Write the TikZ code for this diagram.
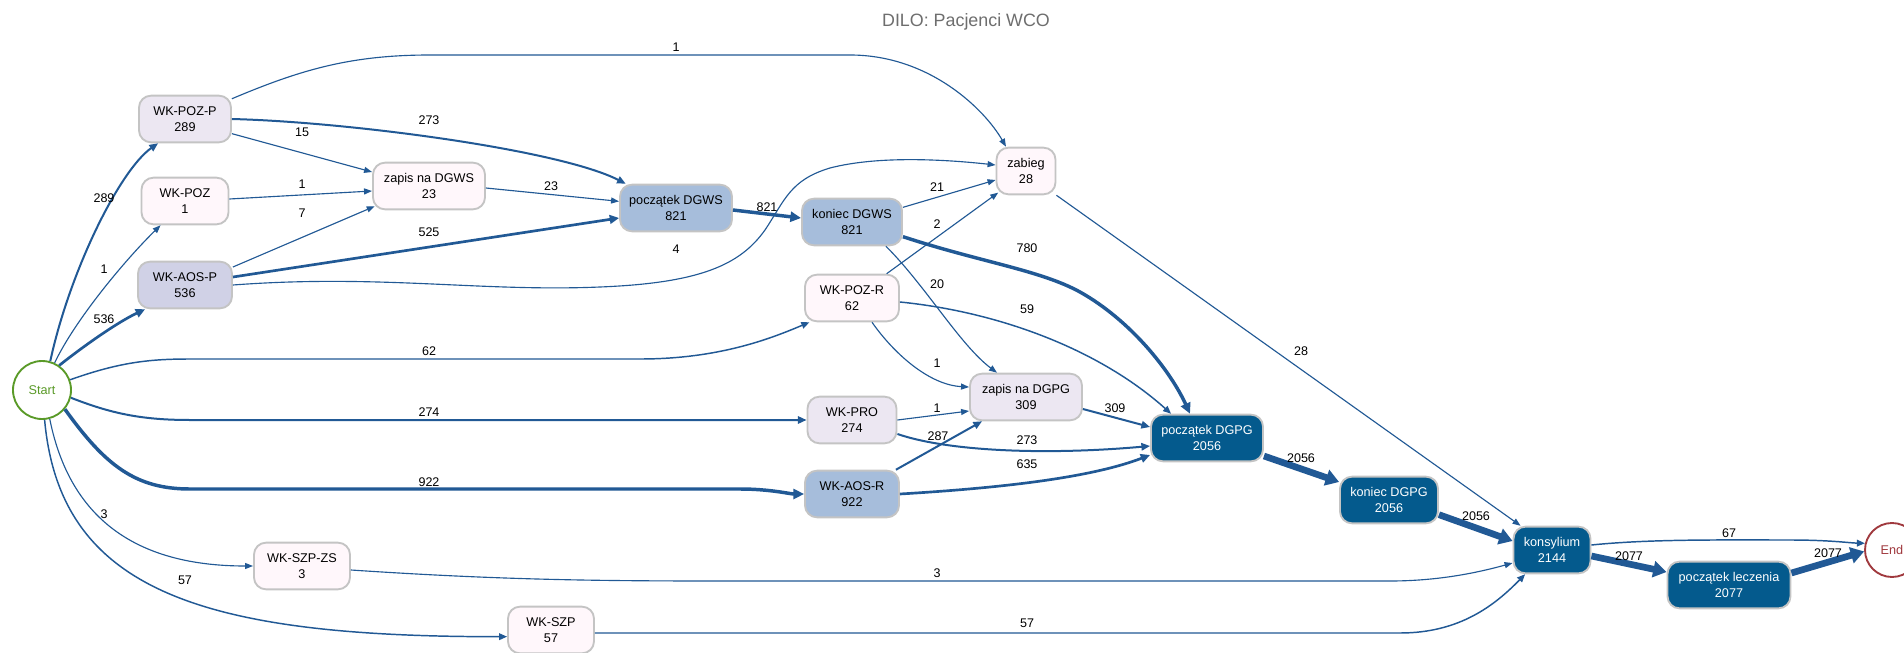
\documentclass[tikz,border=0pt]{standalone}
\usepackage{fontspec}
\setmainfont{Liberation Sans}
\usetikzlibrary{arrows.meta}
\definecolor{eblue}{RGB}{33,89,149}
\definecolor{pu0}{HTML}{FFF7FB}
\definecolor{pu1}{HTML}{ECE7F2}
\definecolor{pu2}{HTML}{D0D1E6}
\definecolor{pu3}{HTML}{A6BDDB}
\definecolor{pu7}{HTML}{045A8D}
\definecolor{nborder}{HTML}{C4C4C4}
\definecolor{startgreen}{HTML}{5A9A28}
\definecolor{endred}{HTML}{A0393E}
\definecolor{titlegray}{HTML}{6E6E6E}
\begin{document}
\begin{tikzpicture}[x=0.75pt,y=-0.75pt,
  nbox/.style={draw=nborder, line width=1.4pt, rounded corners=9pt, minimum height=35pt, inner sep=0pt, align=center, font=\fontsize{9.5}{12}\selectfont, text=black},
  dark/.style={nbox, fill=pu7, text=white},
  term/.style={circle, line width=1.4pt, fill=white, inner sep=0pt, font=\fontsize{9.5}{12}\selectfont},
  lbl/.style={font=\fontsize{9.4}{11}\selectfont, inner sep=0pt, text=black},
  ebase/.style={draw=eblue, line cap=butt},
  ea/.style={ebase, line width=0.85pt, -{Triangle[length=6pt,width=4.5pt]}},
  eab/.style={ebase, line width=1.1pt, -{Triangle[length=6pt,width=5pt]}},
  eb/.style={ebase, line width=1.5pt, -{Triangle[length=6.5pt,width=5.5pt]}},
  ec/.style={ebase, line width=2pt, -{Triangle[length=7pt,width=6.5pt]}},
  ed/.style={ebase, line width=2.6pt, -{Triangle[length=8pt,width=7.5pt]}},
  ee/.style={ebase, line width=5pt, -{Triangle[length=10pt,width=12pt]}},
]
\fill[white] (0,0) rectangle (1904,653);
\useasboundingbox (0,0) rectangle (1904,653);

\node[font=\fontsize{13.4}{16}\selectfont, text=titlegray] (title) at (966,22) {DILO: Pacjenci WCO};

% nodes
\node[term, draw=startgreen, text=startgreen, minimum size=43.5pt] (Start) at (42,390) {Start};
\node[term, draw=endred, text=endred, minimum size=40.5pt] (End) at (1892,550) {End};
\node[nbox, fill=pu1, minimum width=69pt] (WKPOZP) at (185,119) {WK-POZ-P\\289};
\node[nbox, fill=pu0, minimum width=65.25pt] (WKPOZ) at (185,201) {WK-POZ\\1};
\node[nbox, fill=pu2, minimum width=70.5pt] (WKAOSP) at (185,285) {WK-AOS-P\\536};
\node[nbox, fill=pu0, minimum width=84pt] (zDGWS) at (429,186) {zapis na DGWS\\23};
\node[nbox, fill=pu3, minimum width=84pt] (pDGWS) at (676,208) {początek DGWS\\821};
\node[nbox, fill=pu3, minimum width=75pt] (kDGWS) at (852,222) {koniec DGWS\\821};
\node[nbox, fill=pu0, minimum width=44.25pt] (zabieg) at (1026,171) {zabieg\\28};
\node[nbox, fill=pu0, minimum width=70.5pt] (WKPOZR) at (852,298) {WK-POZ-R\\62};
\node[nbox, fill=pu1, minimum width=66.75pt] (WKPRO) at (852,420) {WK-PRO\\274};
\node[nbox, fill=pu1, minimum width=84pt] (zDGPG) at (1026,397) {zapis na DGPG\\309};
\node[nbox, fill=pu3, minimum width=70.5pt] (WKAOSR) at (852,494) {WK-AOS-R\\922};
\node[dark, minimum width=84pt] (pDGPG) at (1207,438) {początek DGPG\\2056};
\node[dark, minimum width=73.5pt] (kDGPG) at (1389,500) {koniec DGPG\\2056};
\node[dark, minimum width=57.75pt] (kons) at (1552,550) {konsylium\\2144};
\node[dark, minimum width=92.25pt] (pLecz) at (1729,585) {początek leczenia\\2077};
\node[nbox, fill=pu0, minimum width=72pt] (WKSZPZS) at (302,566) {WK-SZP-ZS\\3};
\node[nbox, fill=pu0, minimum width=64.5pt] (WKSZP) at (551,630) {WK-SZP\\57};

% edges from Start
\draw[eb] (Start.74) .. controls (70,270) and (120,170) .. ([xshift=15pt]WKPOZP.south west);
\draw[ea] (Start.65) .. controls (75,320) and (125,260) .. ([xshift=15pt]WKPOZ.south west);
\draw[ec] (Start.55) .. controls (85,345) and (118,322) .. ([xshift=6pt]WKAOSP.south west);
\draw[eab] (Start.20) .. controls (120,362) and (150,359) .. (190,359) -- (640,359) .. controls (720,359) and (772,338) .. ([xshift=4pt]WKPOZR.south west);
\draw[eb] (Start.-15) .. controls (110,413) and (140,420) .. (190,420) -- (WKPRO.west);
\draw[ed] (Start.-40) .. controls (105,465) and (135,489) .. (190,489) -- (740,489) .. controls (770,489) and (790,494) .. (WKAOSR.west);
\draw[ea] (Start.-75) .. controls (72,530) and (150,566) .. (WKSZPZS.west);
\draw[eab] (Start.-85) .. controls (60,590) and (200,637) .. ([yshift=-5pt]WKSZP.west);

% first column
\draw[ea] ([yshift=-3pt]WKPOZP.north east) .. controls (300,70) and (350,55) .. (430,55) -- (850,55) .. controls (930,55) and (985,110) .. ([xshift=-15pt]zabieg.north);
\draw[eb] (WKPOZP.east) .. controls (350,122) and (560,150) .. ([xshift=5pt]pDGWS.north west);
\draw[ea] ([yshift=-11pt]WKPOZP.east) -- ([yshift=10.5pt]zDGWS.west);
\draw[ea] ([yshift=1.5pt]WKPOZ.east) -- ([yshift=-3.75pt]zDGWS.west);
\draw[ea] ([yshift=13.5pt]WKAOSP.east) -- ([xshift=2pt,yshift=3pt]zDGWS.south west);
\draw[ec] ([yshift=6pt]WKAOSP.east) -- ([yshift=-7.5pt]pDGWS.west);
\draw[ea] (WKAOSP.east) .. controls (380,274) and (480,292) .. (600,287) .. controls (700,283) and (740,265) .. (765,230) .. controls (785,200) and (790,180) .. (830,168) .. controls (880,155) and (950,160) .. ([yshift=4.5pt]zabieg.west);

% DGWS
\draw[ea] ([yshift=-1.5pt]zDGWS.east) -- ([yshift=5pt]pDGWS.west);
\draw[ed] ([yshift=-1.5pt]pDGWS.east) -- ([yshift=3pt]kDGWS.west);
\draw[ea] ([yshift=11pt]kDGWS.east) -- ([yshift=-6.75pt]zabieg.west);
\draw[ea] ([xshift=-10pt]WKPOZR.north east) -- ([xshift=2pt,yshift=2pt]zabieg.south west);
\draw[ea] ([xshift=-12.75pt]kDGWS.south east) .. controls (925,285) and (960,345) .. ([xshift=-21.75pt]zDGPG.north);
\draw[ed] ([yshift=-11pt]kDGWS.east) .. controls (980,262) and (1040,270) .. (1080,292) .. controls (1130,320) and (1170,370) .. ([xshift=-12.75pt]pDGPG.north);

% middle column
\draw[eab] ([yshift=-3pt]WKPOZR.east) .. controls (1000,312) and (1100,350) .. ([xshift=15.75pt]pDGPG.north west);
\draw[ea] ([xshift=15pt]WKPOZR.south) .. controls (895,355) and (930,385) .. ([yshift=7.5pt]zDGPG.west);
\draw[ea] (WKPRO.east) -- ([yshift=-10.5pt]zDGPG.west);
\draw[eb] ([yshift=-10.5pt]WKPRO.east) .. controls (950,452) and (1050,455) .. ([yshift=-6pt]pDGPG.west);
\draw[eb] ([xshift=-3pt]WKAOSR.north east) -- ([xshift=9.75pt]zDGPG.south west);
\draw[ec] (WKAOSR.east) .. controls (1000,488) and (1090,478) .. ([yshift=-12.75pt]pDGPG.west);
\draw[eb] ([yshift=-9pt]zDGPG.east) -- ([yshift=8.25pt]pDGPG.west);

% right part
\draw[ea] (zabieg.south east) -- ([xshift=6pt]kons.north west);
\draw[ee] ([yshift=-13.5pt]pDGPG.east) -- ([yshift=13.5pt]kDGPG.west);
\draw[ee] ([yshift=-11pt]kDGPG.east) -- ([yshift=6.75pt]kons.west);
\draw[ea] ([yshift=-3pt]WKSZPZS.east) .. controls (500,580) and (600,581) .. (720,581) -- (1390,581) .. controls (1440,581) and (1480,572) .. ([yshift=-9.75pt]kons.west);
\draw[eab] ([yshift=-2.25pt]WKSZP.east) -- (1400,633) .. controls (1460,633) and (1495,605) .. ([xshift=9.4pt]kons.south west);
\draw[eab] ([yshift=3.75pt]kons.east) .. controls (1650,539) and (1720,540) .. (1790,540) .. controls (1830,540) and (1850,543) .. (End.166);
\draw[ee] ([yshift=-4.5pt]kons.east) -- ([yshift=9.75pt]pLecz.west);
\draw[ee] ([yshift=9pt]pLecz.east) -- (End.183);

% edge labels
\node[lbl] (l01) at (104,198) {289};
\node[lbl] (l02) at (104,269) {1};
\node[lbl] (l03) at (104,319) {536};
\node[lbl] (l04) at (104,514) {3};
\node[lbl] (l05) at (185,580) {57};
\node[lbl] (l06) at (302,132) {15};
\node[lbl] (l07) at (302,184) {1};
\node[lbl] (l08) at (302,213) {7};
\node[lbl] (l09) at (429,120) {273};
\node[lbl] (l10) at (429,232) {525};
\node[lbl] (l11) at (429,351) {62};
\node[lbl] (l12) at (429,412) {274};
\node[lbl] (l13) at (429,482) {922};
\node[lbl] (l14) at (551,186) {23};
\node[lbl] (l15) at (676,47) {1};
\node[lbl] (l16) at (676,249) {4};
\node[lbl] (l17) at (767,207) {821};
\node[lbl] (l18) at (937,187) {21};
\node[lbl] (l19) at (937,224) {2};
\node[lbl] (l20) at (937,284) {20};
\node[lbl] (l21) at (937,363) {1};
\node[lbl] (l22) at (937,408) {1};
\node[lbl] (l23) at (938,436) {287};
\node[lbl] (l24) at (937,573) {3};
\node[lbl] (l25) at (1027,248) {780};
\node[lbl] (l26) at (1027,309) {59};
\node[lbl] (l27) at (1027,440) {273};
\node[lbl] (l28) at (1027,464) {635};
\node[lbl] (l29) at (1027,623) {57};
\node[lbl] (l30) at (1115,408) {309};
\node[lbl] (l31) at (1301,351) {28};
\node[lbl] (l32) at (1301,458) {2056};
\node[lbl] (l33) at (1476,516) {2056};
\node[lbl] (l34) at (1629,556) {2077};
\node[lbl] (l35) at (1729,533) {67};
\node[lbl] (l36) at (1828,553) {2077};
\end{tikzpicture}
\end{document}
